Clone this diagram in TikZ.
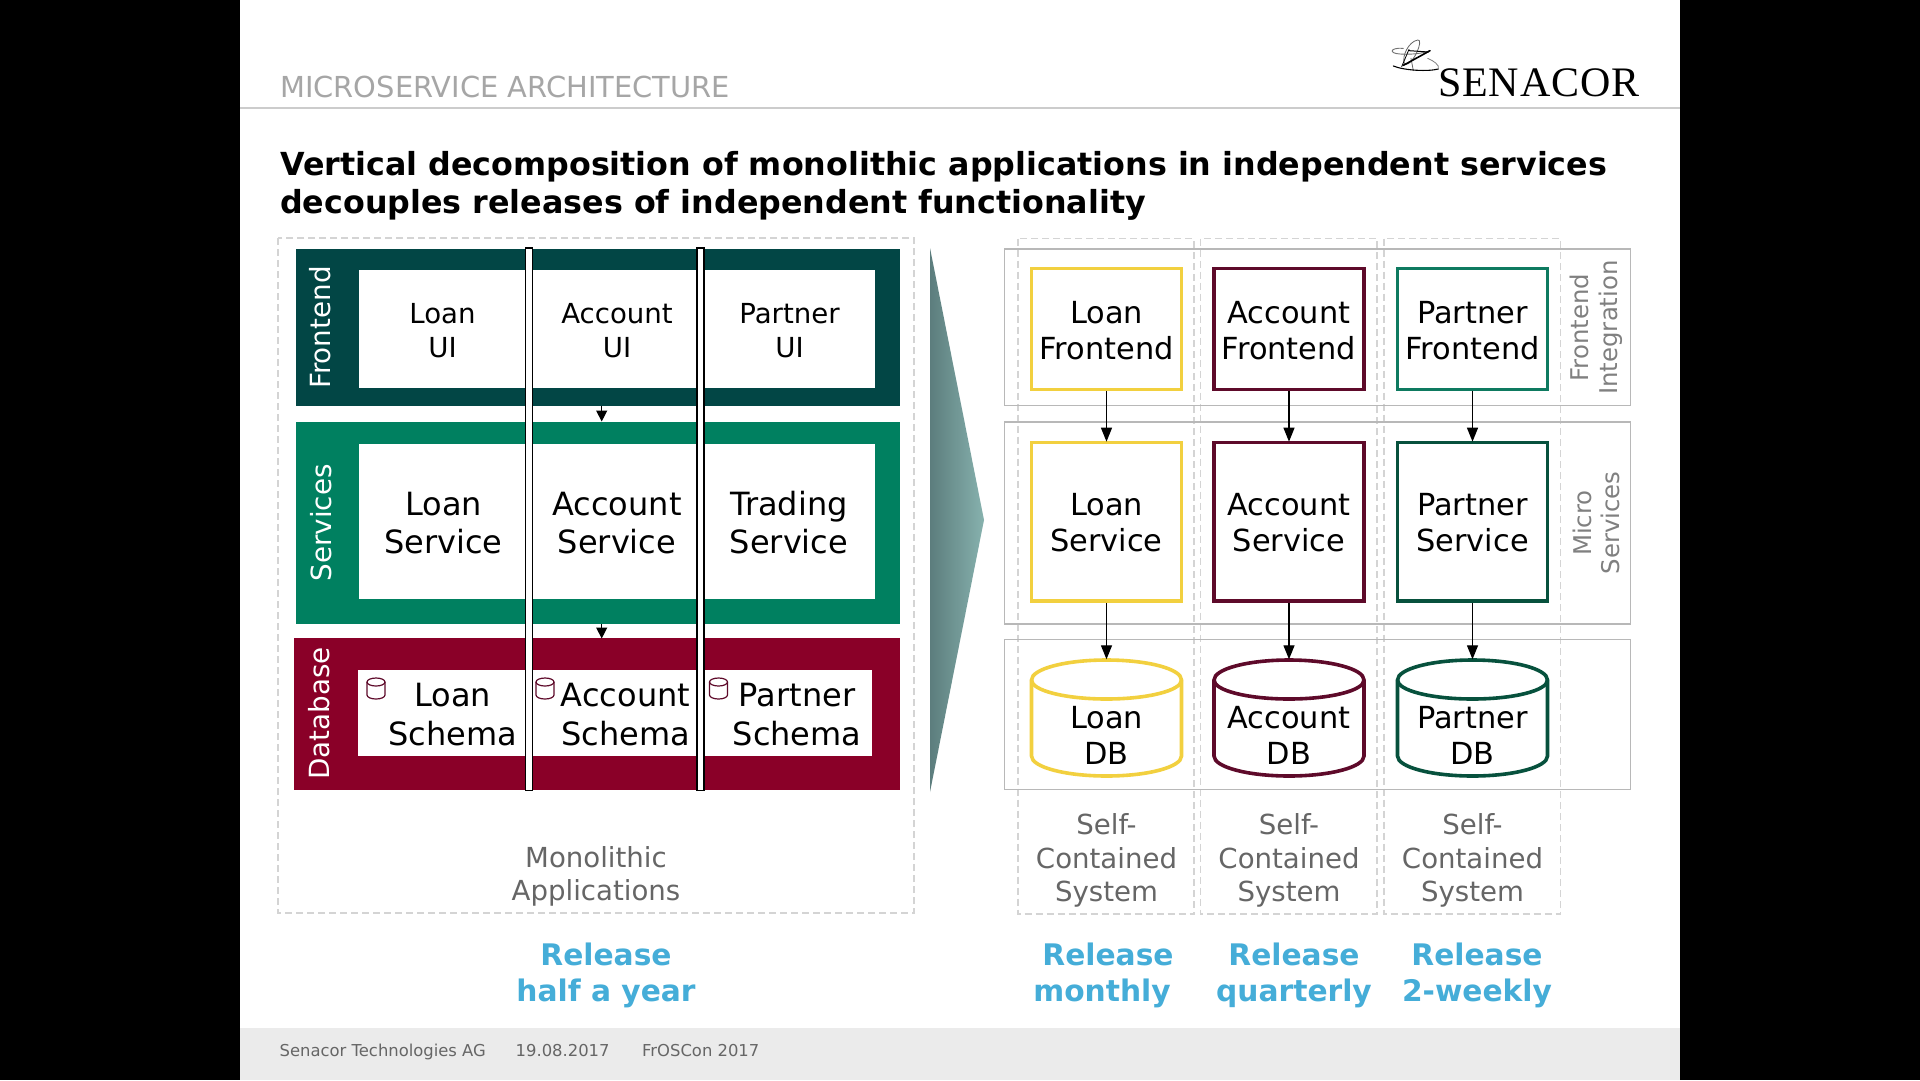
\documentclass[tikz,border=0pt]{standalone}
\usepackage{fontspec}
\setmainfont{DejaVu Sans}
\newfontfamily\logofont[LetterSpace=2]{Liberation Serif}
\usetikzlibrary{arrows.meta}
\definecolor{bandfront}{HTML}{024645}
\definecolor{bandserv}{HTML}{008060}
\definecolor{banddb}{HTML}{8A0028}
\definecolor{cyel}{HTML}{F2D03F}
\definecolor{cmar}{HTML}{5E0A2A}
\definecolor{cteal}{HTML}{0E7A60}
\definecolor{cdark}{HTML}{07513D}
\definecolor{relblue}{HTML}{45ADD8}
\definecolor{grayt}{HTML}{666666}
\definecolor{grayr}{HTML}{808080}
\definecolor{arrowl}{HTML}{5C7D7D}
\definecolor{arrowr}{HTML}{87B2AE}
\newcommand{\fsz}[2]{\fontsize{#1pt}{#2pt}\selectfont}
\newcommand{\tl}{\rule{0pt}{25pt}}
\tikzset{
  band/.style={fill=#1,draw=none,inner sep=0pt},
  whitepanel/.style={fill=white,draw=none,inner sep=0pt},
  barline/.style={fill=white,draw=black,line width=1.2pt},
  bandlabel/.style={rotate=90,text=white,inner sep=0pt,font=\fsz{27.8}{33}},
  uitext/.style={align=center,inner sep=0pt,text=black,font=\fsz{27.6}{33.5}},
  svctext/.style={align=center,inner sep=0pt,text=black,font=\fsz{32}{38.5}},
  sysbox/.style={draw=#1,line width=3.6pt,fill=white,align=center,inner sep=0pt,text=black,
     minimum width=150pt,font=\fsz{30.4}{36}},
  dbtext/.style={align=center,inner sep=0pt,text=black,font=\fsz{30.4}{36}},
  rowframe/.style={draw=black!28,line width=1.4pt},
  dashbox/.style={draw=black!17,line width=1.1pt,dash pattern=on 7pt off 4pt},
  conn/.style={draw=black,line width=1.3pt,-{Triangle[length=14pt,width=11pt]},shorten >=-1pt},
  gtext/.style={align=center,inner sep=0pt,text=grayt,font=\fsz{27.6}{33.7}},
  rtext/.style={align=center,inner sep=0pt,text=grayr,rotate=90,font=\fsz{24.4}{28.5}},
  reltext/.style={align=center,inner sep=0pt,text=relblue,font=\fsz{29.7}{36.2}\bfseries},
  foot/.style={anchor=base west,inner sep=0pt,text=grayt,font=\fsz{16.4}{20}},
  dbcyl/.style={draw=#1,line width=3.6pt,fill=white},
  minicyl/.style={draw=cmar,line width=1.2pt,fill=white},
}
\newcommand{\cyl}[3]{% centre x, colour, name
  \path[dbcyl=#2] (#1-75,680) -- (#1-75,756) arc[start angle=180,end angle=360,x radius=75pt,y radius=20pt]
     -- (#1+75,680) arc[start angle=0,end angle=180,x radius=75pt,y radius=20pt] -- cycle;
  \draw[dbcyl=#2,fill=none] (#1-75,680) arc[start angle=180,end angle=360,x radius=75pt,y radius=19pt];
  \node[inner sep=0pt,minimum width=150pt,minimum height=119pt] (#3) at (#1,718) {};
}
\newcommand{\mini}[2]{% left x, name
  \path[minicyl] (#1,682) -- (#1,695) arc[start angle=180,end angle=360,x radius=9pt,y radius=4pt]
     -- (#1+18,682) arc[start angle=0,end angle=180,x radius=9pt,y radius=4pt] -- cycle;
  \draw[minicyl,fill=none] (#1,682) arc[start angle=180,end angle=360,x radius=9pt,y radius=4pt];
}
\begin{document}
\begin{tikzpicture}[x=1pt,y=-1pt]
\useasboundingbox (0,0) rectangle (1920,1080);
% page
\fill[black] (0,0) rectangle (240,1080);
\fill[black] (1680,0) rectangle (1920,1080);
\fill[white] (240,0) rectangle (1680,1080);
\fill[black!8] (240,1028) rectangle (1680,1080);
\draw[black!20,line width=1.2pt] (240,108) -- (1680,108);
% header
\node[anchor=base west,inner sep=0pt,text=black!35,font=\fsz{28.9}{32}] (hdr) at (280,97) {MICROSERVICE ARCHITECTURE};
\node[anchor=base west,inner sep=0pt,font=\fsz{31.75}{38}\bfseries] (t1) at (280,175) {Vertical decomposition of monolithic applications in independent services};
\node[anchor=base west,inner sep=0pt,font=\fsz{31.75}{38}\bfseries] (t2) at (280,213) {decouples releases of independent functionality};
% logo
\node[anchor=base west,inner sep=0pt,font=\logofont\fsz{42}{46}] (logo) at (1438,96.5) {SENACOR};
\begin{scope}[shift={(1385,30)},x=0.3333pt,y=-0.3333pt,line cap=round]
  \draw[black!55,line width=0.9pt] (55,55) .. controls (15,52) and (10,70) .. (45,72) .. controls (70,74) and (110,72) .. (135,62);
  \draw[black!60,line width=0.8pt] (98,30) .. controls (70,35) and (50,80) .. (58,100) .. controls (70,115) and (100,70) .. (104,40) .. controls (105,32) and (102,29) .. (98,30);
  \draw[black!60,line width=0.8pt] (85,122) -- (78,85);
  \draw[black,line width=0.8pt] (72,58) -- (50,110);
  \draw[black,line width=1.6pt] (135,62) -- (55,106);
  \draw[black,line width=1.0pt] (72,62) -- (130,66);
  \draw[black,line width=1.1pt] (25,108) .. controls (60,122) and (130,125) .. (160,117);
  \draw[black!50,line width=0.8pt] (128,85) .. controls (145,92) and (165,105) .. (160,117);
\end{scope}
% left panel
\draw[dashbox] (278,238) rectangle (914,913);
\node[band=bandfront,minimum width=604pt,minimum height=156.5pt] (bf) at (598,327.5) {};
\node[band=bandserv,minimum width=604pt,minimum height=202pt] (bs) at (598,522.7) {};
\node[band=banddb,minimum width=606pt,minimum height=152pt] (bd) at (597,714) {};
\node[whitepanel,minimum width=516pt,minimum height=118pt] (wf) at (616.5,329) {};
\node[whitepanel,minimum width=516pt,minimum height=155pt] (ws) at (616.5,521.5) {};
\node[whitepanel,minimum width=513.5pt,minimum height=86pt] (wd) at (615.2,713) {};
\node[bandlabel] (lf) at (320,327.5) {Frontend};
\node[bandlabel] (ls) at (321,523) {Services};
\node[bandlabel] (ld) at (319,713.5) {Database};
\node[uitext] (u1) at (442.5,330.5) {Loan\\UI};
\node[uitext] (u2) at (617,330.5) {Account\\UI};
\node[uitext] (u3) at (789.5,330.5) {Partner\\UI};
\node[svctext] (s1) at (443.5,523) {Loan\\Service};
\node[svctext] (s2) at (617,523) {Account\\Service};
\node[svctext] (s3) at (789,522.5) {Trading\\Service};
\node[svctext] (d1) at (452.5,714.5) {Loan\\Schema};
\node[svctext] (d2) at (625.5,714.5) {Account\\Schema};
\node[svctext] (d3) at (797,714.5) {Partner\\Schema};
\mini{367}{m1}
\mini{536}{m2}
\mini{709.5}{m3}
\coordinate (af1) at (601.7,405.5);
\coordinate (af2) at (601.7,421.5);
\coordinate (af3) at (601.7,624);
\coordinate (af4) at (601.7,638.5);
\draw[draw=black,line width=1.3pt,-{Triangle[length=11pt,width=11pt]}] (af1) -- (af2);
\draw[draw=black,line width=1.3pt,-{Triangle[length=11pt,width=11pt]}] (af3) -- (af4);
\draw[barline] (525.5,248) rectangle (532.5,790.5);
\draw[barline] (697,248) rectangle (704,790.5);
\node[gtext] (mono) at (596,876.5) {Monolithic\\Applications};
% big arrow
\shade[left color=arrowl,right color=arrowr] (930,248) -- (984,520) -- (930,792) -- cycle;
% right panel
\draw[dashbox] (1018,238.5) rectangle (1194,914);
\draw[dashbox] (1200.5,238.5) rectangle (1377,914);
\draw[dashbox] (1384,238.5) rectangle (1560.5,914);
\draw[rowframe] (1004.5,249) rectangle (1630.5,405.5);
\draw[rowframe] (1004.5,422) rectangle (1630.5,624);
\draw[rowframe] (1004.5,639.5) rectangle (1630.5,789.5);
\node[sysbox=cyel,minimum height=121pt] (f1) at (1106.5,329) {\tl Loan\\Frontend};
\node[sysbox=cmar,minimum height=121pt] (f2) at (1289,329) {\tl Account\\Frontend};
\node[sysbox=cteal,minimum height=121pt] (f3) at (1472.5,329) {\tl Partner\\Frontend};
\node[sysbox=cyel,minimum height=158.5pt] (v1) at (1106.5,521.7) {\tl Loan\\Service};
\node[sysbox=cmar,minimum height=158.5pt] (v2) at (1289,521.7) {\tl Account\\Service};
\node[sysbox=cdark,minimum height=158.5pt] (v3) at (1472.5,521.7) {\tl Partner\\Service};
\cyl{1106.5}{cyel}{c1}
\cyl{1289}{cmar}{c2}
\cyl{1472.5}{cdark}{c3}
\node[dbtext] (c1t) at (1106.5,735.5) {Loan\\DB};
\node[dbtext] (c2t) at (1289,735.5) {Account\\DB};
\node[dbtext] (c3t) at (1472.5,735.5) {Partner\\DB};
\draw[conn] (f1.south) -- (v1.north);
\draw[conn] (f2.south) -- (v2.north);
\draw[conn] (f3.south) -- (v3.north);
\draw[conn] (v1.south) -- (c1.north);
\draw[conn] (v2.south) -- (c2.north);
\draw[conn] (v3.south) -- (c3.north);
\node[rtext] (ri) at (1596.5,327.5) {Frontend\\Integration};
\node[rtext] (rm) at (1596.5,523) {Micro\\Services};
\node[gtext] (g1) at (1106.5,860.5) {Self-\\Contained\\System};
\node[gtext] (g2) at (1289,860.5) {Self-\\Contained\\System};
\node[gtext] (g3) at (1472.5,860.5) {Self-\\Contained\\System};
% releases
\node[reltext] (r0) at (606,975.5) {Release\\half a year};
\node[reltext] (r1) at (1108,975.5) {Release\\\hbox{monthly\kern12pt}};
\node[reltext] (r2) at (1294,975.5) {Release\\quarterly};
\node[reltext] (r3) at (1477,975.5) {Release\\2-weekly};
% footer
\node[foot] (ff1) at (279.5,1056) {Senacor Technologies AG};
\node[foot] (ff2) at (515.5,1056) {19.08.2017};
\node[foot] (ff3) at (642,1056) {FrOSCon 2017};
\end{tikzpicture}
\end{document}
